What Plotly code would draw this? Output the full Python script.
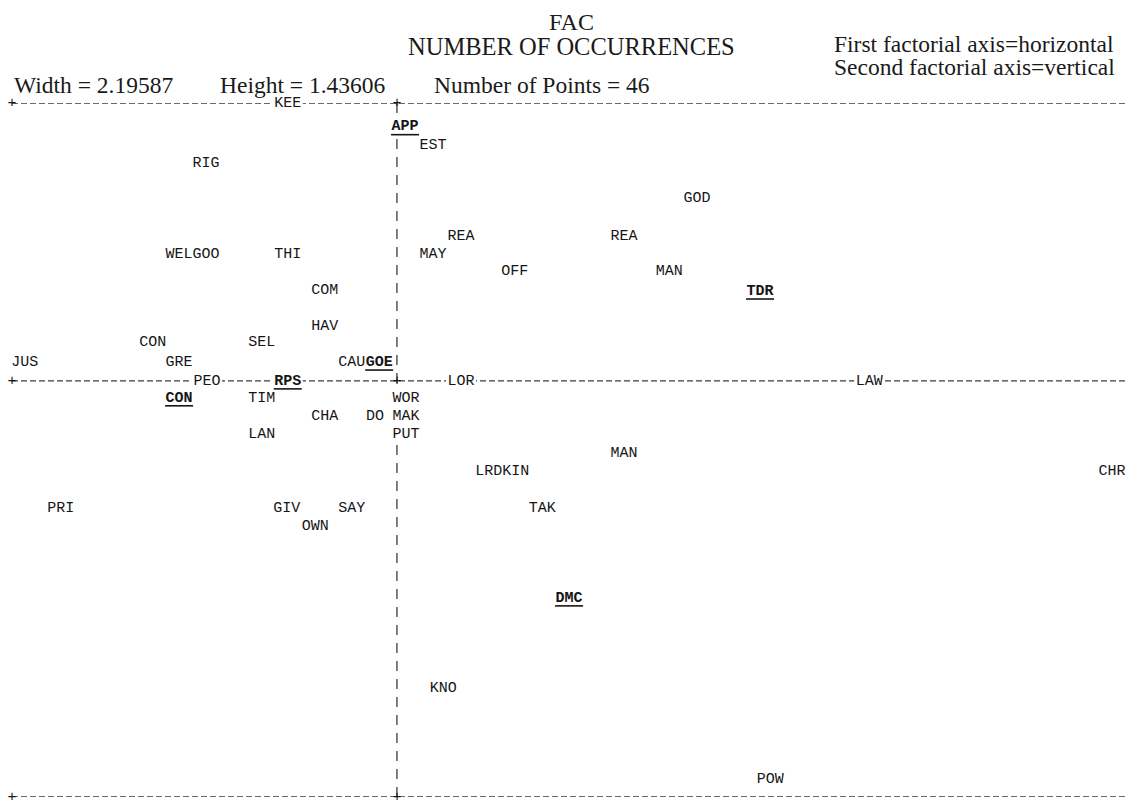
import plotly.graph_objects as go

# ---- data: factorial coordinates ----
words = ["KEE", "APP", "EST", "RIG", "GOD", "REA", "REA", "WEL", "GOO", "THI",
         "MAY", "OFF", "MAN", "COM", "TDR", "HAV", "CON", "SEL", "JUS", "GRE",
         "CAU", "GOE", "PEO", "RPS", "LOR", "LAW", "CON", "TIM", "WOR", "CHA",
         "DO", "MAK", "LAN", "PUT", "MAN", "LRD", "KIN", "PRI", "GIV", "SAY",
         "TAK", "OWN", "DMC", "KNO", "POW", "CHR"]
axis1 = [-0.215, 0.016, 0.071, -0.376, 0.591, 0.126, 0.447, -0.429, -0.376, -0.215,
         0.071, 0.232, 0.536, -0.142, 0.715, -0.142, -0.481, -0.266, -0.733, -0.429,
         -0.089, -0.035, -0.374, -0.215, 0.126, 0.930, -0.429, -0.266, 0.018, -0.142,
         -0.043, 0.018, -0.266, 0.018, 0.447, 0.181, 0.234, -0.662, -0.217, -0.089,
         0.286, -0.161, 0.339, 0.091, 0.735, 1.408]
axis2 = [0.575, 0.526, 0.488, 0.451, 0.377, 0.300, 0.300, 0.263, 0.263, 0.263,
         0.263, 0.226, 0.226, 0.188, 0.186, 0.114, 0.079, 0.079, 0.039, 0.039,
         0.039, 0.039, 0.0, 0.0, 0.0, 0.0, -0.035, -0.035, -0.035, -0.074,
         -0.074, -0.074, -0.110, -0.110, -0.149, -0.186, -0.186, -0.263, -0.263, -0.263,
         -0.263, -0.300, -0.449, -0.635, -0.825, -0.186]
supplementary = [0, 1, 0, 0, 0, 0, 0, 0, 0, 0,
                 0, 0, 0, 0, 1, 0, 0, 0, 0, 0,
                 0, 1, 0, 1, 0, 0, 1, 0, 0, 0,
                 0, 0, 0, 0, 0, 0, 0, 0, 0, 0,
                 0, 0, 1, 0, 0, 0]

X_MIN, X_MAX = -0.758, 1.4376
Y_MIN, Y_MAX = -0.861, 0.575

title_lines = ["FAC", "NUMBER OF OCCURRENCES"]
stats = ["Width = 2.19587", "Height = 1.43606", "Number of Points = 46"]
axis_notes = ["First factorial axis=horizontal", "Second factorial axis=vertical"]

MONO = "Liberation Mono, Courier New, monospace"
SERIF = "Liberation Serif, Times New Roman, serif"
INK = "#161616"

fig = go.Figure()

# frame and axes as printer-style dashed lines
shapes = []
for yy in (Y_MAX, 0.0, Y_MIN):
    shapes.append(dict(type="line", xref="x", yref="y", x0=X_MIN, x1=X_MAX, y0=yy, y1=yy,
                       line=dict(color="#3a3a3a", width=1.3, dash="6px,3px"), layer="below"))
shapes.append(dict(type="line", xref="x", yref="y", x0=0, x1=0, y0=Y_MIN, y1=Y_MAX,
                   line=dict(color="#3a3a3a", width=1.3, dash="10px,8px"), layer="below"))
# white patches where labels overwrite the dashed lines
for w, xv, yv in zip(words, axis1, axis2):
    if yv == 0.0 or yv == Y_MAX or abs(xv) < 0.027:
        shapes.append(dict(type="rect", xref="x", yref="y", xsizemode="pixel", ysizemode="pixel",
                           xanchor=xv, yanchor=yv, x0=-15, x1=15, y0=-8, y1=8,
                           fillcolor="white", line=dict(width=0), layer="below"))
# underlines for supplementary points
for w, xv, yv, s in zip(words, axis1, axis2, supplementary):
    if s:
        shapes.append(dict(type="line", xref="x", yref="y", xsizemode="pixel", ysizemode="pixel",
                           xanchor=xv, yanchor=yv, x0=-14, x1=14, y0=-8, y1=-8,
                           line=dict(color=INK, width=1.6), layer="above"))

# "+" markers at frame crossings
fig.add_trace(go.Scatter(
    x=[X_MIN, 0, X_MIN, 0, X_MIN, 0], y=[Y_MAX, Y_MAX, 0, 0, Y_MIN, Y_MIN],
    mode="text", text=["+"] * 6, textposition="middle center",
    textfont=dict(family=MONO, size=15, color=INK), cliponaxis=False, hoverinfo="skip"))

labels = [f"<b>{w}</b>" if s else w for w, s in zip(words, supplementary)]
fig.add_trace(go.Scatter(
    x=axis1, y=axis2, mode="text", text=labels, textposition="middle center",
    textfont=dict(family=MONO, size=15, color=INK), cliponaxis=False,
    hovertext=words, hoverinfo="text+x+y"))

W, H = 1127, 802
L, R, T, B = 12, 0, 103, 5
pw, ph = W - L - R, H - T - B

def px(xs):
    return (xs - L) / pw

def py(ys):
    return (H - B - ys) / ph

ann = []
ann.append(dict(text=title_lines[0], x=px(571), y=py(22), xanchor="center", yanchor="middle", size=24))
ann.append(dict(text=title_lines[1], x=px(571), y=py(47), xanchor="center", yanchor="middle", size=24.5))
ann.append(dict(text=stats[0], x=px(12), y=py(85), xanchor="left", yanchor="middle", size=23.5))
ann.append(dict(text=stats[1], x=px(218), y=py(85), xanchor="left", yanchor="middle", size=23.5))
ann.append(dict(text=stats[2], x=px(432), y=py(85), xanchor="left", yanchor="middle", size=23.5))
ann.append(dict(text=axis_notes[0], x=px(832), y=py(44), xanchor="left", yanchor="middle", size=23.5))
ann.append(dict(text=axis_notes[1], x=px(832), y=py(67), xanchor="left", yanchor="middle", size=23.5))
for a in ann:
    sz = a.pop("size")
    a.update(xref="paper", yref="paper", showarrow=False,
             font=dict(family=SERIF, size=sz, color="#1a1a1a"))

fig.update_layout(
    width=W, height=H, margin=dict(l=L, r=R, t=T, b=B, pad=0),
    paper_bgcolor="white", plot_bgcolor="white", showlegend=False,
    xaxis=dict(range=[X_MIN, X_MAX], visible=False, fixedrange=True),
    yaxis=dict(range=[Y_MIN, Y_MAX], visible=False, fixedrange=True),
    shapes=shapes, annotations=ann,
)
fig.write_html(
    "out.html",
    config={"displayModeBar": False},
    post_script="document.body.style.margin='0';"
                "document.documentElement.style.overflow='hidden';"
                "document.body.style.overflow='hidden';",
)
